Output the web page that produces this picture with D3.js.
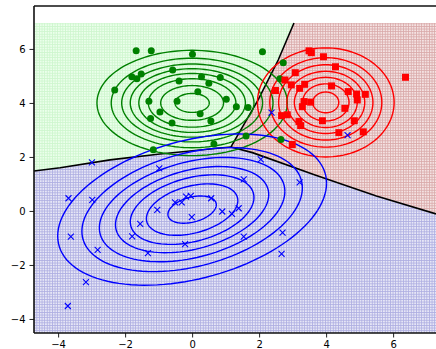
<!DOCTYPE html>
<html>
<head>
<meta charset="utf-8">
<script src="https://cdn.jsdelivr.net/npm/d3@7"></script>
<style>
  body { margin: 0; background: #fff; }
  text { font-family: "DejaVu Sans", sans-serif; font-size: 10px; fill: #000; }
</style>
</head>
<body>
<div id="chart"></div>
<script>
// scatter points
const greenX = [-1.67, -1.22, 0.01, 2.10, -1.80, -1.65, -1.52, -0.58, 0.28, -0.39, 0.50, 0.84, 2.72, 2.62,
    -2.31, 0.17, -1.29, -0.45, 1.02, -0.96, 0.24, 1.32, 1.67, -1.24, -0.60, 0.56, 1.61, 2.65, 0.65, -1.16];
const greenY = [5.93, 5.93, 5.80, 5.90, 4.97, 4.90, 5.07, 5.22, 4.97, 4.81, 4.73, 4.94, 5.49, 4.90,
    4.48, 4.41, 4.06, 4.06, 4.14, 3.66, 3.60, 3.86, 3.83, 3.42, 3.26, 3.33, 2.78, 2.65, 2.48, 2.27];

const redX = [3.49, 3.56, 3.92, 4.28, 3.08, 2.77, 2.96, 3.36, 3.21, 4.16, 2.49, 4.66, 4.91, 5.17, 4.93,
    6.37, 3.34, 3.54, 3.29, 4.56, 2.84, 2.67, 3.19, 3.24, 3.89, 4.84, 4.38, 5.11, 2.99];
const redY = [5.93, 5.86, 5.71, 5.34, 5.12, 4.85, 4.67, 4.69, 4.54, 4.63, 4.46, 4.42, 4.33, 4.32, 4.11,
    4.95, 4.05, 4.03, 3.86, 3.80, 3.56, 3.53, 3.31, 3.16, 3.34, 3.34, 2.90, 2.93, 2.46];

const blueX = [-2.99, -0.98, 2.37, 4.64, 2.05, -3.69, -2.98, -3.62, -2.82, -3.17, -3.71, -1.04, -1.55,
    -1.79, -1.32, -0.21, -0.51, -0.31, -0.18, -0.04, -0.01, 0.57, 1.54, 3.21, 0.90, 1.19, 1.39, 1.54, 2.70, 2.67];
const blueY = [1.80, 1.58, 3.64, 2.81, 1.91, 0.47, 0.41, -0.95, -1.44, -2.64, -3.52, 0.04, -0.48,
    -0.94, -1.56, -1.23, 0.32, 0.32, 0.53, 0.56, -0.23, 0.47, 1.17, 1.06, -0.02, -0.11, 0.10, -0.95, -0.80, -1.59];

// gaussian contours: mean, outer-ring covariance, ring scale factors
const greenMean = [0.0, 4.0];
const greenCov = [[8.07, 0], [0, 3.80]];
const greenRings = [1, 0.85, 0.74, 0.65, 0.56, 0.46, 0.33, 0.18];

const redMean = [3.99, 4.02];
const redCov = [[4.16, 0], [0, 4.08]];
const redRings = [1, 0.82, 0.69, 0.57, 0.46, 0.34, 0.19];

const blueMean = [0.0, 0.05];
const blueCov = [[16.1, 3.93], [3.93, 7.84]];
const blueRings = [1, 0.82, 0.69, 0.57, 0.46, 0.34, 0.18];

// decision boundaries
const triple = [1.16, 2.37];
const greenBlueLine = [[-4.72, 1.48], [-3.94, 1.60], [-2.45, 1.89], [-0.96, 2.11], [0.84, 2.33], triple];
const greenRedLine = [triple, [1.97, 4.11], [2.57, 5.59], [3.04, 6.96]];
const blueRedLine = [triple, [1.8, 2.16], [3.67, 1.33], [5.5, 0.55], [7.28, -0.11]];

const imgX = [-4.72, 7.28];
const imgY = [-4.52, 6.96];

const xTicks = [-4, -2, 0, 2, 4, 6];
const yTicks = [-4, -2, 0, 2, 4, 6];

const width = 436, height = 349;
const margin = { left: 34, right: 0, top: 6, bottom: 16 };

const x = d3.scaleLinear().domain([-4.72, 7.28]).range([margin.left, width - margin.right]);
const y = d3.scaleLinear().domain([-4.52, 7.59]).range([height - margin.bottom, margin.top]);

const svg = d3.select("#chart").append("svg")
    .attr("width", width)
    .attr("height", height);

const defs = svg.append("defs");
function addPattern(id, base, line) {
    const p = defs.append("pattern")
        .attr("id", id)
        .attr("patternUnits", "userSpaceOnUse")
        .attr("width", 2.6)
        .attr("height", 2.6);
    p.append("rect").attr("width", 2.6).attr("height", 2.6).attr("fill", base);
    p.append("rect").attr("width", 0.8).attr("height", 2.6).attr("fill", line);
    p.append("rect").attr("width", 2.6).attr("height", 0.8).attr("fill", line);
}
addPattern("pGreen", "#ebffeb", "#cdf6cd");
addPattern("pRed", "#f4e2e2", "#d9a9a9");
addPattern("pBlue", "#e6e6f6", "#aeaee2");

const line = d3.line().x(d => x(d[0])).y(d => y(d[1]));

const greenPoly = [[imgX[0], imgY[1]], ...greenRedLine.slice().reverse(), ...greenBlueLine.slice().reverse()];
const redPoly = [[imgX[1], imgY[1]], [imgX[1], blueRedLine[blueRedLine.length - 1][1]],
    ...blueRedLine.slice().reverse(), ...greenRedLine];
const bluePoly = [...greenBlueLine, ...blueRedLine.slice(1), [imgX[1], imgY[0]], [imgX[0], imgY[0]]];

const bg = svg.append("g");
bg.append("path").attr("d", line(greenPoly) + "Z").attr("fill", "url(#pGreen)");
bg.append("path").attr("d", line(redPoly) + "Z").attr("fill", "url(#pRed)");
bg.append("path").attr("d", line(bluePoly) + "Z").attr("fill", "url(#pBlue)");

const bounds = svg.append("g")
    .attr("fill", "none")
    .attr("stroke", "#000")
    .attr("stroke-width", 1.6);
[greenBlueLine, greenRedLine, blueRedLine].forEach(l => {
    bounds.append("path").attr("d", line(l));
});

// ellipse ring from mean and covariance
function ring(mean, cov, r) {
    const a = Math.sqrt(cov[0][0]);
    const b = cov[0][1] / a;
    const c = Math.sqrt(cov[1][1] - b * b);
    return d3.range(0, 361, 3).map(deg => {
        const t = deg * Math.PI / 180;
        const u = r * Math.cos(t), v = r * Math.sin(t);
        return [mean[0] + a * u, mean[1] + b * u + c * v];
    });
}

function drawRings(mean, cov, rings, color) {
    svg.append("g")
        .attr("fill", "none")
        .attr("stroke", color)
        .attr("stroke-width", 1.4)
        .selectAll("path")
        .data(rings)
        .enter()
        .append("path")
        .attr("d", r => line(ring(mean, cov, r)));
}
drawRings(greenMean, greenCov, greenRings, "green");
drawRings(redMean, redCov, redRings, "red");
drawRings(blueMean, blueCov, blueRings, "blue");

svg.append("g")
    .selectAll("circle")
    .data(greenX)
    .enter()
    .append("circle")
    .attr("cx", d => x(d))
    .attr("cy", (d, i) => y(greenY[i]))
    .attr("r", 3.5)
    .attr("fill", "green");

svg.append("g")
    .selectAll("rect")
    .data(redX)
    .enter()
    .append("rect")
    .attr("x", d => x(d) - 3.5)
    .attr("y", (d, i) => y(redY[i]) - 3.5)
    .attr("width", 7)
    .attr("height", 7)
    .attr("fill", "red");

svg.append("g")
    .attr("stroke", "blue")
    .attr("stroke-width", 1.1)
    .attr("fill", "none")
    .selectAll("path")
    .data(blueX)
    .enter()
    .append("path")
    .attr("transform", (d, i) => `translate(${x(d)},${y(blueY[i])})`)
    .attr("d", "M-3,-3L3,3M-3,3L3,-3");

// axes
const xAxis = svg.append("g")
    .attr("transform", `translate(0,${height - margin.bottom})`)
    .call(d3.axisBottom(x).tickValues(xTicks).tickSize(4.5).tickPadding(3)
        .tickFormat(d => d < 0 ? "\u2212" + Math.abs(d) : d));
const yAxis = svg.append("g")
    .attr("transform", `translate(${margin.left},0)`)
    .call(d3.axisLeft(y).tickValues(yTicks).tickSize(4.5).tickPadding(4)
        .tickFormat(d => d < 0 ? "\u2212" + Math.abs(d) : d));
[xAxis, yAxis].forEach(a => {
    a.select(".domain").remove();
    a.selectAll("text").attr("font-family", "DejaVu Sans").attr("font-size", 10).attr("fill", "#222");
    a.selectAll("line").attr("stroke", "#222");
});

svg.append("g")
    .attr("stroke", "#111")
    .attr("stroke-width", 1.6)
    .call(g => g.append("line").attr("x1", margin.left).attr("x2", margin.left)
        .attr("y1", margin.top).attr("y2", height - margin.bottom))
    .call(g => g.append("line").attr("x1", margin.left).attr("x2", width)
        .attr("y1", height - margin.bottom).attr("y2", height - margin.bottom))
    .call(g => g.append("line").attr("x1", margin.left).attr("x2", width)
        .attr("y1", margin.top).attr("y2", margin.top));
</script>
</body>
</html>
